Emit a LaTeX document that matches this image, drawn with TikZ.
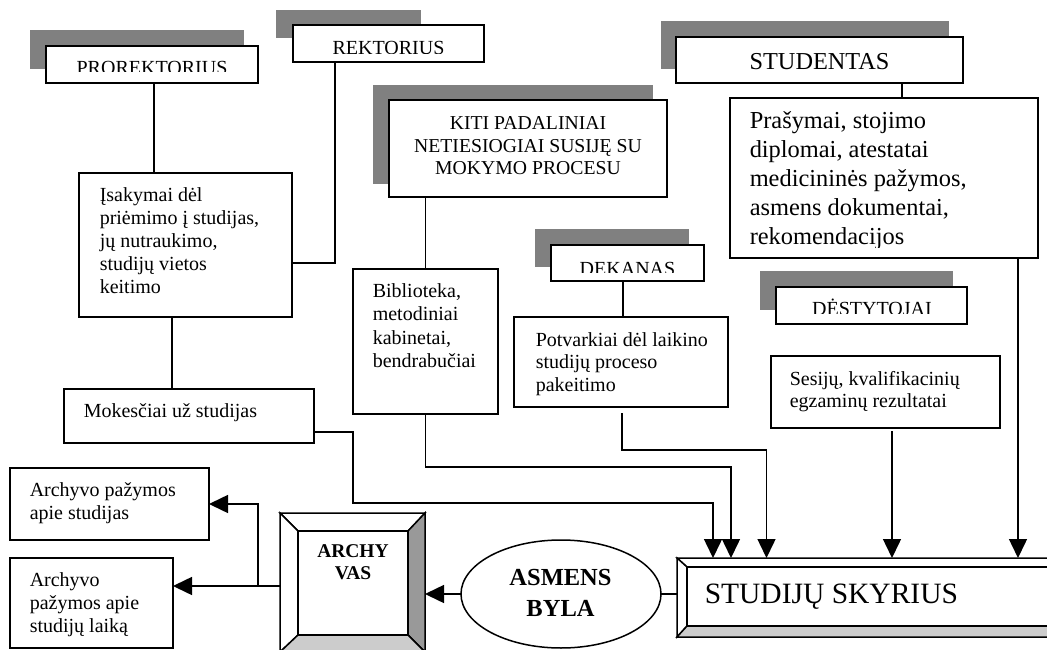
\documentclass[tikz,border=0pt]{standalone}
\usepackage{fontspec}
\setmainfont{Liberation Serif}
\usetikzlibrary{arrows.meta,shapes.geometric,fit}

\definecolor{shadowgray}{RGB}{128,128,128}
\definecolor{bevellight}{RGB}{204,204,204}
\definecolor{beveldark}{RGB}{153,153,153}

% multi-line text whose baseline is the first line, with fixed line pitch
\newcommand\leftlines[1]{\vtop{\lineskiplimit=-1000pt\def\\{\cr}\halign{##\hfil\cr#1\crcr}}}
\newcommand\centerlines[1]{\vtop{\lineskiplimit=-1000pt\def\\{\cr}\halign{\hfil##\hfil\cr#1\crcr}}}

% raised frame: outer corners (#1,#2)-(#3,#4), inner corners (#5,#6)-(#7,#8)
\newcommand\bevelframe[8]{%
  \filldraw[fill=white] (#1,#2) -- (#3,#2) -- (#7,#6) -- (#5,#6) -- cycle;
  \filldraw[fill=white] (#1,#2) -- (#5,#6) -- (#5,#8) -- (#1,#4) -- cycle;
  \filldraw[fill=beveldark] (#3,#2) -- (#3,#4) -- (#7,#8) -- (#7,#6) -- cycle;
  \filldraw[fill=bevellight] (#1,#4) -- (#5,#8) -- (#7,#8) -- (#3,#4) -- cycle;
  \draw (#5,#6) rectangle (#7,#8);
}

\begin{document}
\begin{tikzpicture}[x=1pt,y=-1pt,line width=1.5pt,line join=miter,
  box/.style={draw,fill=white,inner sep=0pt,outer sep=0pt},
  frame/.style={inner sep=0pt,outer sep=0pt},
  txt/.style={inner sep=0pt,anchor=base west,font=\fontsize{20}{23}\selectfont},
  ttl/.style={inner sep=0pt,anchor=base,font=\fontsize{20}{23}\selectfont},
  wire/.style={line width=1.5pt},
  arr/.style={wire,-{Triangle[length=19pt,width=18pt]}},
]
\useasboundingbox (0,0) rectangle (1047,650);
\clip (0,0) rectangle (1047,650);

% ---------- shadows of the heading boxes ----------
\fill[shadowgray] (30,30) rectangle (244,69);
\fill[shadowgray] (276,10) rectangle (421,38);
\fill[shadowgray] (373,85) rectangle (653,184);
\fill[shadowgray] (661,21) rectangle (949,69);
\fill[shadowgray] (535,229) rectangle (689,267);
\fill[shadowgray] (760,271) rectangle (953,310);

% ---------- boxes ----------
\node[box,fit={(46,46) (258,83)}] (pro) {};
\node[box,fit={(293,25) (484,62)}] (rek) {};
\node[box,fit={(389,100) (667,197)}] (kiti) {};
\node[box,fit={(676,37) (963,83)}] (stu) {};
\node[box,fit={(730,98) (1038,258)}] (pras) {};
\node[box,fit={(551,245) (704,281)}] (dek) {};
\node[box,fit={(776,287) (967,324)}] (des) {};
\node[box,fit={(79,173) (292,317)}] (isa) {};
\node[box,fit={(353,269) (498,414)}] (bib) {};
\node[box,fit={(514,317) (728,407)}] (pot) {};
\node[box,fit={(771,356) (1000,428)}] (ses) {};
\node[box,fit={(64,389) (314,443)}] (mok) {};
\node[box,fit={(10,468) (209,540)}] (ap1) {};
\node[box,fit={(10,558) (173,648)}] (ap2) {};

% ---------- heading texts (cut off at the bottom of their boxes) ----------
\begin{scope}
  \clip (46,46) rectangle (258,72);
  \node[ttl] (pro-t) at (152,74.5) {PROREKTORIUS};
\end{scope}
\begin{scope}
  \clip (293,25) rectangle (484,53.3);
  \node[ttl] (rek-t) at (388.5,55) {REKTORIUS};
\end{scope}
\begin{scope}
  \clip (551,245) rectangle (704,272);
  \node[ttl] (dek-t) at (627.5,275) {DEKANAS};
\end{scope}
\begin{scope}
  \clip (776,287) rectangle (967,313);
  \node[ttl] (des-t) at (872,315.5) {DĖSTYTOJAI};
\end{scope}
\node[ttl,font=\fontsize{24.3}{28}\selectfont] (stu-t) at (819.5,70) {STUDENTAS};
\node[ttl,font=\fontsize{19.7}{22.5}\selectfont] (kiti-t) at (528,130)
  {\centerlines{KITI PADALINIAI\\NETIESIOGIAI SUSIJĘ SU\\MOKYMO PROCESU}};

% ---------- body texts ----------
\begin{scope}
  \clip (730,98) rectangle (1038,247.5);
  \node[txt,font=\fontsize{24.4}{28.9}\selectfont] (pras-t) at (749,129)
    {\leftlines{Prašymai, stojimo\\diplomai, atestatai\\medicininės pažymos,\\asmens dokumentai,\\rekomendacijos}};
\end{scope}
\node[txt] (isa-t) at (99,201)
  {\leftlines{Įsakymai dėl\\priėmimo į studijas,\\jų nutraukimo,\\studijų vietos\\keitimo}};
\node[txt,font=\fontsize{20}{23.5}\selectfont] (bib-t) at (372,297)
  {\leftlines{Biblioteka,\\metodiniai\\kabinetai,\\bendrabučiai}};
\node[txt,font=\fontsize{20}{22.5}\selectfont] (pot-t) at (535,346)
  {\leftlines{Potvarkiai dėl laikino\\studijų proceso\\pakeitimo}};
\node[txt,font=\fontsize{20}{22}\selectfont] (ses-t) at (789,385.5)
  {\leftlines{Sesijų, kvalifikacinių\\egzaminų rezultatai}};
\node[txt] (mok-t) at (83,417) {Mokesčiai už studijas};
\node[txt] (ap1-t) at (29,496) {\leftlines{Archyvo pažymos\\apie studijas}};
\node[txt] (ap2-t) at (29,586) {\leftlines{Archyvo\\pažymos apie\\studijų laiką}};

% ---------- raised frames ----------
\node[frame,fit={(280,513) (425,652)}] (arch) {};
\bevelframe{280}{513}{425}{652}{298}{531}{408}{635}
\node[ttl,font=\bfseries\fontsize{19.5}{22}\selectfont] (arch-t) at (353,557)
  {\centerlines{ARCHY\\VAS}};

\node[frame,fit={(677,558) (1062,637)}] (sky) {};
\bevelframe{677}{558}{1062}{637}{687}{567}{1052}{626}
\node[txt,font=\fontsize{29.5}{34}\selectfont] (sky-t) at (704,603) {STUDIJŲ SKYRIUS};

\node[draw,ellipse,minimum width=200pt,minimum height=108pt,inner sep=0pt,outer sep=0pt]
  (byla) at (561,594) {};
\node[ttl,font=\bfseries\fontsize{24.5}{31}\selectfont] (byla-t) at (560.5,585)
  {\centerlines{ASMENS\\BYLA}};

% ---------- connectors between the upper boxes ----------
\coordinate (xpro) at (154,0);
\coordinate (xisa) at (172,0);
\coordinate (rbend) at (335,263);
\coordinate (xstu) at (902,0);
\coordinate (xdek) at (623,0);
\draw[wire] (pro.south -| xpro) -- (isa.north -| xpro);
\draw[wire] (rek.south -| rbend) -- (rbend) -- (isa.east |- rbend);
\draw[wire] (isa.south -| xisa) -- (mok.north -| xisa);
\draw[wire] (kiti.south -| bib.north) -- (bib.north);
\draw[wire] (stu.south -| xstu) -- (pras.north -| xstu);
\draw[wire] (dek.south -| xdek) -- (pot.north -| xdek);

% ---------- flows into the studies office ----------
\coordinate (m1) at (353,432);
\coordinate (m2) at (353,503);
\coordinate (m3) at (713,503);
\draw[arr] (mok.east |- m1) -- (m1) -- (m2) -- (m3) -- (m3 |- sky.north);
\coordinate (b1) at (731,467);
\draw[arr] (bib.south) -- (bib.south |- b1) -- (b1) -- (b1 |- sky.north);
\coordinate (p0) at (622,413);
\coordinate (p1) at (766.5,450);
\draw[arr] (p0) -- (p0 |- p1) -- (p1) -- (p1 |- sky.north);
\coordinate (xses) at (892,0);
\draw[arr] ([yshift=-3pt]ses.south -| xses) -- (xses |- sky.north);
\coordinate (xpras) at (1018,0);
\draw[arr] (pras.south -| xpras) -- (xpras |- sky.north);

% ---------- personal file and archive ----------
\draw[wire] (byla.east) -- (sky.west |- byla.east);
\draw[arr] (byla.west) -- (arch.east |- byla.west);
\coordinate (a1) at (258,586);
\coordinate (a2) at (258,504);
\draw[arr] (arch.west |- a1) -- (ap2.east |- a1);
\draw[arr] (a1) -- (a2) -- (ap1.east |- a2);
\end{tikzpicture}
\end{document}
